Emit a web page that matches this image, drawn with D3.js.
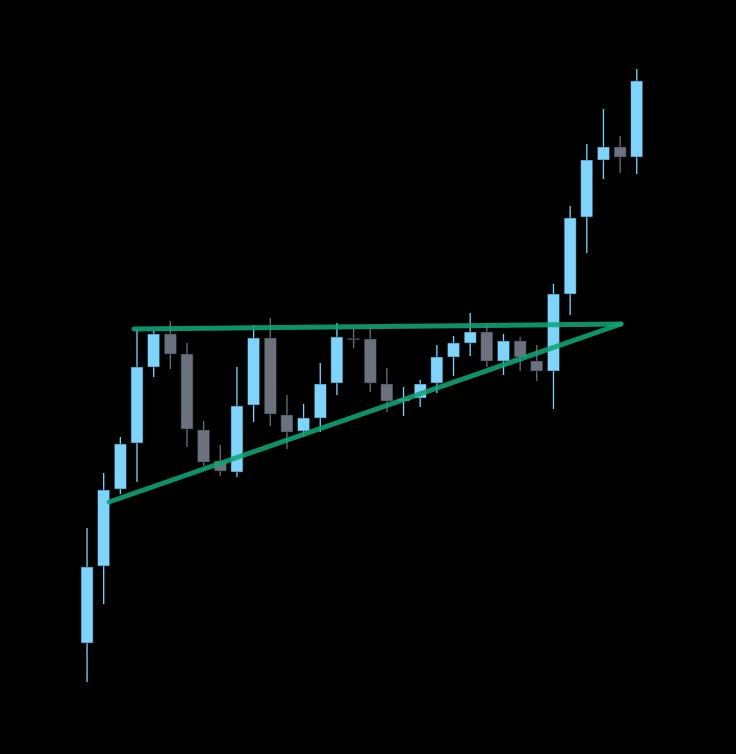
<!DOCTYPE html>
<html>
<head>
<meta charset="utf-8">
<script src="https://cdn.jsdelivr.net/npm/d3@7"></script>
<style>
  html, body { margin: 0; padding: 0; background: #000; }
  svg { display: block; }
</style>
</head>
<body>
<svg id="chart"></svg>
<script>
// OHLC per candle
const opens  = [105.7,113.4,121.1,125.7,133.3,136.6,134.6,127.0,123.9,122.8,129.5,136.2,128.5,126.9,128.2,131.7,136.15,136.1,131.6,129.9,130.2,131.7,134.3,135.7,136.8,133.9,135.9,133.9,132.9,140.6,148.3,154.0,155.3,154.3]
const closes = [113.3,121.0,125.6,133.3,136.6,134.6,127.1,123.8,122.9,129.4,136.2,128.6,126.8,128.2,131.6,136.3,136.1,131.7,129.9,130.1,131.6,134.3,135.7,136.8,133.9,135.9,134.3,132.9,140.6,148.2,154.0,155.3,154.3,161.9]
const highs  = [117.2,122.7,126.3,137.1,136.9,137.9,135.7,127.9,125.5,133.3,137.5,138.2,130.5,129.6,133.7,137.7,137.1,137.3,133.2,131.3,132.0,135.5,136.4,138.7,137.7,136.6,136.3,135.5,141.6,149.4,155.6,159.1,156.4,163.1]
const lows   = [101.8,109.6,120.6,121.8,132.3,133.1,125.3,123.4,122.4,122.3,127.8,127.4,125.1,126.3,126.8,130.5,135.2,130.8,128.8,128.4,129.3,130.7,132.4,134.4,133.3,132.5,132.9,131.9,129.1,138.5,144.7,152.1,152.7,152.6]

// triangle trendlines: [candle index, price]
const resistance = [[2.82, 137.1], [32.05, 137.6]]
const support    = [[1.32, 119.8], [32.05, 137.6]]

const width = 736, height = 754

const svg = d3.select("#chart")
  .attr("width", width)
  .attr("height", height)

svg.append("rect").attr("width", width).attr("height", height).attr("fill", "#000")

const candles = opens.map((o, i) => ({ i, o, c: closes[i], h: highs[i], l: lows[i] }))

const x = d3.scaleBand()
  .domain(candles.map(d => d.i))
  .range([78.7, 645.1])
  .paddingInner(0.28)
  .paddingOuter(0.14)

const y = d3.scaleLinear().domain([100, 170]).range([700, 0])

const xc = d3.scaleLinear()
  .domain([0, candles.length - 1])
  .range([x(0) + x.bandwidth() / 2, x(candles.length - 1) + x.bandwidth() / 2])

const upColor = "#7fd4fb", downColor = "#6b717d"
const col = d => d.c >= d.o ? upColor : downColor

const g = svg.append("g")

// wicks
g.selectAll("line.wick")
  .data(candles)
  .enter().append("line")
  .attr("class", "wick")
  .attr("x1", d => xc(d.i))
  .attr("x2", d => xc(d.i))
  .attr("y1", d => y(d.h))
  .attr("y2", d => y(d.l))
  .attr("stroke", col)
  .attr("stroke-width", 1.3)

// bodies
g.selectAll("rect.body")
  .data(candles)
  .enter().append("rect")
  .attr("class", "body")
  .attr("x", d => x(d.i))
  .attr("width", x.bandwidth())
  .attr("y", d => y(Math.max(d.o, d.c)))
  .attr("height", d => Math.max(1.3, Math.abs(y(d.o) - y(d.c))))
  .attr("fill", col)
  .attr("stroke", "#1b2a33")
  .attr("stroke-width", 0.5)

// trendlines
const line = d3.line()
  .x(d => xc(d[0]))
  .y(d => y(d[1]))

svg.selectAll("path.trend")
  .data([resistance, support])
  .enter().append("path")
  .attr("class", "trend")
  .attr("d", line)
  .attr("fill", "none")
  .attr("stroke", "#10a577")
  .attr("stroke-opacity", 0.88)
  .attr("stroke-width", 5)
  .attr("stroke-linecap", "round")
</script>
</body>
</html>
